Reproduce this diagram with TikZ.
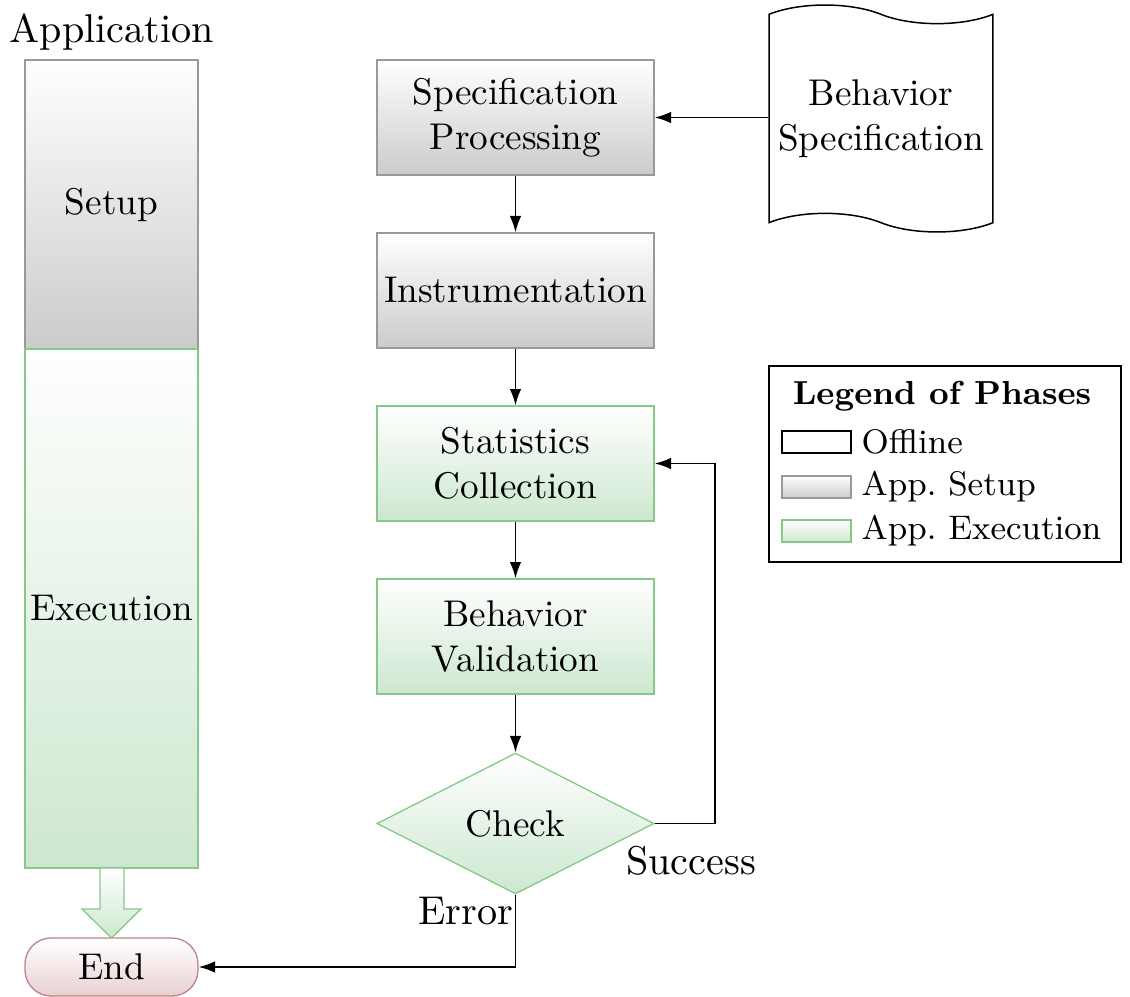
\documentclass[tikz,border=0pt]{standalone}
\usepackage{fontspec}
\usetikzlibrary{shapes.geometric,shapes.symbols,arrows.meta}
\definecolor{setupline}{HTML}{999999}
\definecolor{setupfill}{HTML}{CBCBCB}
\definecolor{execline}{HTML}{86C986}
\definecolor{execfill}{HTML}{CDE7CF}
\definecolor{endline}{HTML}{C08282}
\definecolor{endfill}{HTML}{E8D0D3}
\begin{document}
\begin{tikzpicture}[x=0.2688pt,y=-0.2688pt,
  font=\fontsize{10}{12}\selectfont,
  setup/.style={draw=setupline,top color=white,bottom color=setupfill,line width=0.35pt},
  exec/.style={draw=execline,top color=white,bottom color=execfill,line width=0.35pt},
  proc/.style={rectangle,minimum width=74.5pt,minimum height=30.9pt,inner sep=0pt,align=center},
  col/.style={rectangle,minimum width=46.5pt,inner sep=0pt,align=center},
  flow/.style={-{Latex[length=4.4pt,width=3.1pt]},line width=0.45pt},
  lbl/.style={font=\fontsize{10.8}{13}\selectfont,inner sep=0pt},
  swatch/.style={rectangle,minimum width=18.5pt,minimum height=5.9pt,inner sep=0pt},
  legtext/.style={font=\fontsize{9.15}{11}\selectfont,anchor=west,inner sep=0pt}]
\useasboundingbox (0,0) rectangle (1130,997);

% application column
\node[lbl] (app) at (112,32) {Application};
\node[col,setup,minimum height=77.7pt] (setup) at (111.5,204.5) {Setup};
\node[col,exec,minimum height=139.5pt] (exec) at (111.5,608.5) {Execution};
\node[col,rounded corners=7pt,draw=endline,top color=white,bottom color=endfill,
      line width=0.35pt,minimum height=15.6pt] (end) at (111.5,967) {End};
\draw[exec] (100,868) -- (124,868) -- (124,909) -- (141,909) -- (111.5,938)
  -- (82,909) -- (100,909) -- cycle;

% processing chain
\node[proc,setup] (spec) at (515.5,117.5) {Specification\\Processing};
\node[proc,setup] (instr) at (515.5,290.5) {Instrumentation};
\node[proc,exec] (stats) at (515.5,463.5) {Statistics\\Collection};
\node[proc,exec] (valid) at (515.5,636.5) {Behavior\\Validation};
\node[diamond,exec,minimum width=74.5pt,minimum height=37.9pt,inner sep=0pt,aspect=2] (check) at (515.5,823.5) {Check};
\node[tape,draw,line width=0.4pt,tape bend top=out and in,tape bend bottom=out and in,
      minimum width=60.2pt,minimum height=61pt,align=center,inner sep=0pt] (bspec) at (881,118.5) {Behavior\\Specification};

\draw[flow] (spec.east -| bspec.west) -- (spec.east);
\draw[flow] (spec) -- (instr);
\draw[flow] (instr) -- (stats);
\draw[flow] (stats) -- (valid);
\draw[flow] (valid) -- (check);
\draw[flow] (check.east) -- (715,823.5) |- (stats.east);
\draw[flow] (check.south) |- (end.east);
\node[lbl] (succ) at (691,861) {Success};
\node[lbl,anchor=east] (err) at (514,911) {Error};

% legend
\node[draw,line width=0.4pt,minimum width=94.6pt,minimum height=52.7pt,inner sep=0pt] (legend) at (945,464) {};
\node[font=\fontsize{8.95}{11}\selectfont\bfseries,inner sep=0pt] (legtitle) at (942,396) {Legend of Phases};
\node[swatch,draw,line width=0.4pt] (sw1) at (816.5,442) {};
\node[swatch,setup] (sw2) at (816.5,487) {};
\node[swatch,exec] (sw3) at (816.5,531) {};
\node[legtext] (l1) at (861,442) {Offline};
\node[legtext] (l2) at (861,487) {App.~Setup};
\node[legtext] (l3) at (861,531) {App.~Execution};
\end{tikzpicture}
\end{document}
